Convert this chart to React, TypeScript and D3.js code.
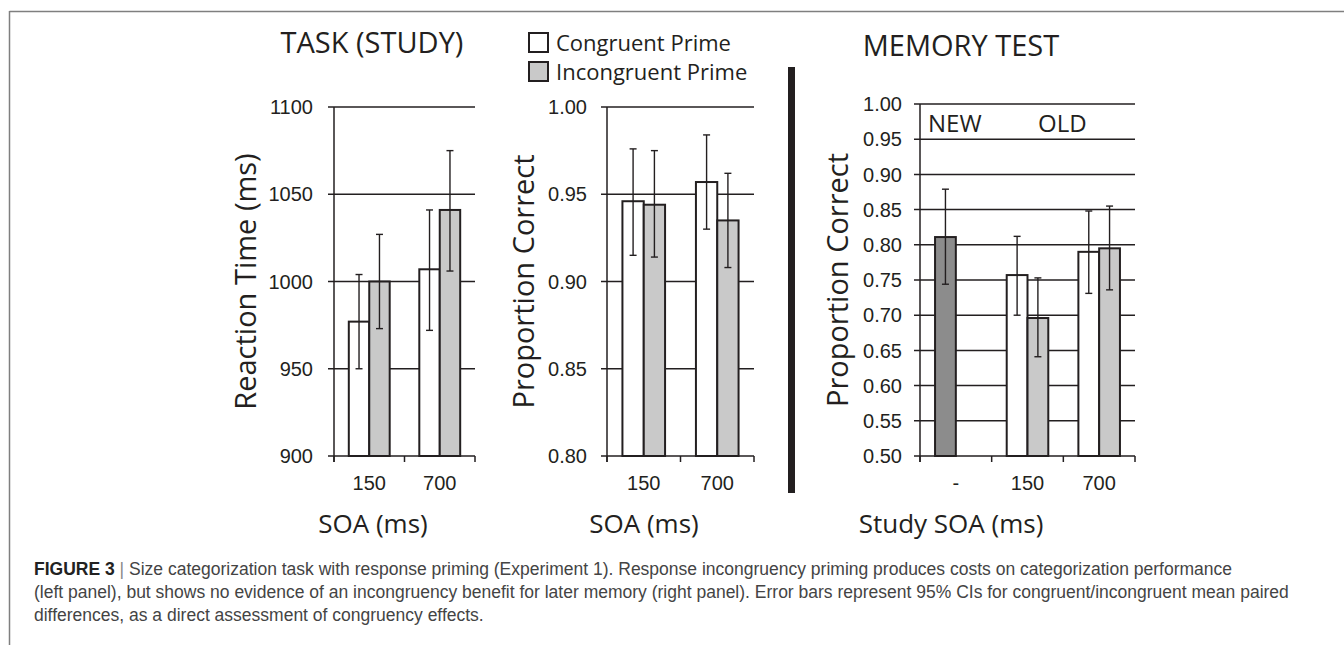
import React from 'react';
import * as d3 from 'd3';

// left panel: reaction time at study
const soaCategories = ['150', '700'];
const rtCongruent = [977, 1007];
const rtIncongruent = [1000, 1041];
const rtCongruentCI = [[950, 1004], [972, 1041]];
const rtIncongruentCI = [[973, 1027], [1006, 1075]];
const rtTicks = [900, 950, 1000, 1050, 1100];

// middle panel: accuracy at study
const accCongruent = [0.946, 0.957];
const accIncongruent = [0.944, 0.935];
const accCongruentCI = [[0.915, 0.976], [0.93, 0.984]];
const accIncongruentCI = [[0.914, 0.975], [0.908, 0.962]];
const accTicks = [0.8, 0.85, 0.9, 0.95, 1.0];

// right panel: memory test
const memCategories = ['-', '150', '700'];
const memNew = [0.811, null, null];
const memNewCI = [[0.744, 0.879], null, null];
const memCongruent = [null, 0.757, 0.79];
const memCongruentCI = [null, [0.7, 0.812], [0.731, 0.848]];
const memIncongruent = [null, 0.696, 0.795];
const memIncongruentCI = [null, [0.641, 0.753], [0.736, 0.855]];
const memTicks = [0.5, 0.55, 0.6, 0.65, 0.7, 0.75, 0.8, 0.85, 0.9, 0.95, 1.0];

const legendItems = ['Congruent Prime', 'Incongruent Prime'];

const captionLines = [
  'Size categorization task with response priming (Experiment 1). Response incongruency priming produces costs on categorization performance',
  '(left panel), but shows no evidence of an incongruency benefit for later memory (right panel). Error bars represent 95% CIs for congruent/incongruent mean paired',
  'differences, as a direct assessment of congruency effects.',
];

const INK = '#231f20';
const LIGHT = '#c9c9c9';
const DARK = '#8c8c8c';
const TITLE_FONT = '"Open Sans", "Noto Sans", sans-serif';
const TICK_FONT = '"Liberation Sans", Arial, sans-serif';

type Series = {
  values: (number | null)[];
  ci: (number[] | null)[];
  slot: string;
  fill: string;
};

type PanelCfg = {
  left: number;
  right: number;
  top: number;
  bottom: number;
  domain: [number, number];
  ticks: number[];
  fmt: (v: number) => string;
  categories: string[];
  series: Series[];
  yTitle: string;
  yTitleX: number;
  labelRight: number;
  xTitle: string;
  xTitleX: number;
};

const Panel = ({ cfg }: { cfg: PanelCfg }) => {
  const y = d3.scaleLinear().domain(cfg.domain).range([cfg.bottom, cfg.top]);
  const x = d3
    .scaleBand()
    .domain(cfg.categories)
    .range([cfg.left, cfg.right])
    .paddingInner(0.42)
    .paddingOuter(0.21);
  const slot = d3.scaleBand().domain(['0', '1']).range([0, x.bandwidth()]);
  const bounds = d3.range(cfg.categories.length + 1).map((i) => cfg.left + i * x.step());
  const midY = (cfg.top + cfg.bottom) / 2;

  return (
    <g>
      {/* gridlines + y ticks */}
      {cfg.ticks.map((t) => (
        <g key={t}>
          <line x1={cfg.left - 6} x2={cfg.right} y1={y(t)} y2={y(t)} stroke={INK} strokeWidth={1.5} />
          <text
            x={cfg.labelRight}
            y={y(t)}
            dy="0.36em"
            textAnchor="end"
            fontFamily={TICK_FONT}
            fontSize={20}
            fill={INK}
          >
            {cfg.fmt(t)}
          </text>
        </g>
      ))}
      {/* axes */}
      <line x1={cfg.left} x2={cfg.left} y1={cfg.top} y2={cfg.bottom + 6} stroke={INK} strokeWidth={1.5} />
      {bounds.map((b, i) => (
        <line key={i} x1={b} x2={b} y1={cfg.bottom} y2={cfg.bottom + 6} stroke={INK} strokeWidth={1.5} />
      ))}
      {/* bars */}
      {cfg.series.map((s, si) =>
        s.values.map((v, i) =>
          v == null ? null : (
            <rect
              key={`${si}-${i}`}
              x={(x(cfg.categories[i]) as number) + (slot(s.slot) as number)}
              y={y(v)}
              width={slot.bandwidth()}
              height={cfg.bottom - y(v)}
              fill={s.fill}
              stroke={INK}
              strokeWidth={2}
            />
          ),
        ),
      )}
      {/* error bars */}
      {cfg.series.map((s, si) =>
        s.ci.map((c, i) => {
          if (!c) return null;
          const cx = (x(cfg.categories[i]) as number) + (slot(s.slot) as number) + slot.bandwidth() / 2;
          return (
            <g key={`e${si}-${i}`} stroke={INK} strokeWidth={1.4}>
              <line x1={cx} x2={cx} y1={y(c[0])} y2={y(c[1])} />
              <line x1={cx - 3.5} x2={cx + 3.5} y1={y(c[0])} y2={y(c[0])} />
              <line x1={cx - 3.5} x2={cx + 3.5} y1={y(c[1])} y2={y(c[1])} />
            </g>
          );
        }),
      )}
      {/* category labels */}
      {cfg.categories.map((c) => (
        <text
          key={c}
          x={(x(c) as number) + x.bandwidth() / 2}
          y={490}
          textAnchor="middle"
          fontFamily={TICK_FONT}
          fontSize={20}
          fill={INK}
        >
          {c}
        </text>
      ))}
      <text x={cfg.xTitleX} y={533} textAnchor="middle" fontFamily={TITLE_FONT} fontSize={26} fill={INK}>
        {cfg.xTitle}
      </text>
      <text
        transform={`translate(${cfg.yTitleX},${midY}) rotate(-90)`}
        textAnchor="middle"
        fontFamily={TITLE_FONT}
        fontSize={29}
        fill={INK}
      >
        {cfg.yTitle}
      </text>
    </g>
  );
};

const App = () => {
  const rtCfg: PanelCfg = {
    left: 334,
    right: 475,
    top: 107,
    bottom: 456,
    domain: [900, 1100],
    ticks: rtTicks,
    fmt: (v) => String(v),
    categories: soaCategories,
    series: [
      { values: rtCongruent, ci: rtCongruentCI, slot: '0', fill: '#fff' },
      { values: rtIncongruent, ci: rtIncongruentCI, slot: '1', fill: LIGHT },
    ],
    yTitle: 'Reaction Time (ms)',
    yTitleX: 256,
    labelRight: 313,
    xTitle: 'SOA (ms)',
    xTitleX: 373,
  };
  const accCfg: PanelCfg = {
    left: 607,
    right: 754,
    top: 107,
    bottom: 456,
    domain: [0.8, 1.0],
    ticks: accTicks,
    fmt: d3.format('.2f'),
    categories: soaCategories,
    series: [
      { values: accCongruent, ci: accCongruentCI, slot: '0', fill: '#fff' },
      { values: accIncongruent, ci: accIncongruentCI, slot: '1', fill: LIGHT },
    ],
    yTitle: 'Proportion Correct',
    yTitleX: 534,
    labelRight: 587,
    xTitle: 'SOA (ms)',
    xTitleX: 644,
  };
  const memCfg: PanelCfg = {
    left: 920,
    right: 1135,
    top: 104,
    bottom: 456,
    domain: [0.5, 1.0],
    ticks: memTicks,
    fmt: d3.format('.2f'),
    categories: memCategories,
    series: [
      { values: memNew, ci: memNewCI, slot: '0', fill: DARK },
      { values: memCongruent, ci: memCongruentCI, slot: '0', fill: '#fff' },
      { values: memIncongruent, ci: memIncongruentCI, slot: '1', fill: LIGHT },
    ],
    yTitle: 'Proportion Correct',
    yTitleX: 848,
    labelRight: 902,
    xTitle: 'Study SOA (ms)',
    xTitleX: 951,
  };

  return (
    <svg
      width={1344}
      height={645}
      style={{ position: 'absolute', left: 0, top: 0, background: '#fff' }}
    >
      {/* figure frame */}
      <line x1={9.5} x2={1344} y1={11.5} y2={11.5} stroke="#7f7f7f" strokeWidth={1.5} />
      <line x1={9.5} x2={9.5} y1={11} y2={645} stroke="#7f7f7f" strokeWidth={1.5} />

      <text x={372} y={53} textAnchor="middle" fontFamily={TITLE_FONT} fontSize={29} fill={INK}>
        TASK (STUDY)
      </text>
      <text x={961} y={56} textAnchor="middle" fontFamily={TITLE_FONT} fontSize={29} fill={INK}>
        MEMORY TEST
      </text>

      {legendItems.map((d, i) => (
        <g key={d}>
          <rect x={529} y={33 + i * 29} width={19} height={19} fill={i === 0 ? '#fff' : LIGHT} stroke={INK} strokeWidth={2} />
          <text x={556} y={51 + i * 29} fontFamily={TITLE_FONT} fontSize={22} fill={INK}>
            {d}
          </text>
        </g>
      ))}

      <Panel cfg={rtCfg} />
      <Panel cfg={accCfg} />
      <Panel cfg={memCfg} />

      <text x={928} y={132} fontFamily={TITLE_FONT} fontSize={24} fill={INK}>NEW</text>
      <text x={1038} y={132} fontFamily={TITLE_FONT} fontSize={24} fill={INK}>OLD</text>

      {/* study / test divider */}
      <rect x={788} y={67} width={7} height={426} fill={INK} />

      {/* caption */}
      <g fontFamily={TICK_FONT} fontSize={17.5} fill="#444">
        <text x={34} y={575}>
          <tspan fontWeight="bold" fill="#222">FIGURE 3</tspan>
          <tspan fill="#888"> | </tspan>
          <tspan>{captionLines[0]}</tspan>
        </text>
        <text x={34} y={598}>{captionLines[1]}</text>
        <text x={34} y={621}>{captionLines[2]}</text>
      </g>
    </svg>
  );
};

export default App;
